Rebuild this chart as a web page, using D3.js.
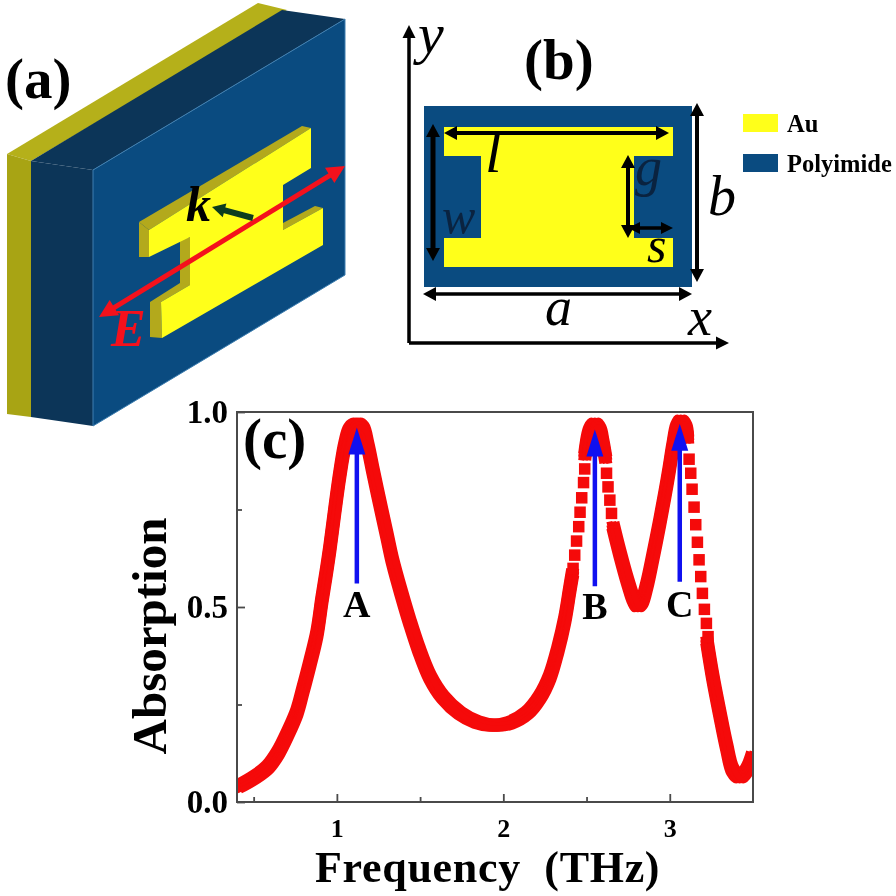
<!DOCTYPE html>
<html>
<head>
<meta charset="utf-8">
<title>Absorber</title>
<script src="https://d3js.org/d3.v7.min.js"></script>
<style>
    html, body { margin: 0; background: #fff; }
    svg { filter: blur(0.5px); }
    text { font-family: "Liberation Serif", serif; }
    .b { font-weight: bold; }
    .i { font-style: italic; }
</style>
</head>
<body>
<script>
// absorption curve (solid stretches)
const freqLow = [0.40,0.508,0.586,0.646,0.706,0.760,0.796,0.838,0.880,0.910,0.934,0.958,0.988,1.018,1.048,1.078,1.120,1.156,1.186,1.216,1.258,1.300,1.336,1.390,1.438,1.492,1.559,1.637,1.739,1.841,1.937,2.039,2.141,2.219,2.279,2.327,2.369,2.399,2.417];
const absLow = [0.038,0.064,0.090,0.126,0.177,0.231,0.287,0.356,0.431,0.518,0.582,0.651,0.749,0.841,0.915,0.956,0.969,0.959,0.913,0.851,0.767,0.685,0.615,0.531,0.462,0.392,0.321,0.269,0.228,0.205,0.197,0.203,0.228,0.269,0.321,0.390,0.467,0.544,0.590];
const freqPeakB = [2.489,2.520,2.550,2.580,2.598,2.616];
const absPeakB = [0.885,0.954,0.969,0.954,0.921,0.877];
const freqMid = [2.658,2.700,2.748,2.784,2.808,2.832,2.862,2.898,2.940,2.970,2.994,3.018,3.042,3.066,3.096,3.108];
const absMid = [0.710,0.638,0.564,0.518,0.503,0.513,0.556,0.628,0.718,0.787,0.846,0.910,0.961,0.977,0.961,0.928];
const freqHigh = [3.222,3.258,3.300,3.342,3.378,3.420,3.462,3.498];
const absHigh = [0.415,0.321,0.228,0.141,0.082,0.064,0.082,0.121];

// separate square markers where the samples spread apart
const freqMarks = [2.489,2.482,2.471,2.461,2.453,2.44,2.429,2.419,2.62,2.629,2.64,2.65,3.116,3.126,3.134,3.146,3.156,3.166,3.176,3.186,3.196,3.208,3.22,3.23];
const absMarks = [0.854,0.819,0.78,0.743,0.706,0.669,0.633,0.599,0.843,0.808,0.774,0.74,0.879,0.843,0.802,0.756,0.711,0.666,0.621,0.578,0.535,0.494,0.458,0.424];

// blue peak arrows
const peakNames = ['A','B','C'];
const peakFreq = [1.12,2.55,3.06];
const peakTail = [0.56,0.553,0.565];
const peakTip = [0.96,0.955,0.97];

const xMajor = [1,2,3];
const xMinor = [0.5,1.5,2.5];
const yMajor = [0,0.5,1];
const yMinor = [0.25,0.75];

const W = 896, H = 896;
const svg = d3.select('body').append('svg').attr('width', W).attr('height', H).style('display','block');
const defs = svg.append('defs');

function poly(pts, fill, stroke){
    return svg.append('polygon')
        .attr('points', pts.map(p=>p.join(',')).join(' '))
        .attr('fill', fill)
        .attr('stroke', stroke || 'none');
}

// straight arrow with filled head, both ends if double
function arrow(g, x1, y1, x2, y2, color, sw, headL, headW, both){
    const a = Math.atan2(y2-y1, x2-x1);
    const ux = Math.cos(a), uy = Math.sin(a);
    const head = (x, y, dx, dy) => {
        const bx = x - dx*headL, by = y - dy*headL;
        g.append('polygon')
            .attr('points', [[x,y],[bx-dy*headW/2,by+dx*headW/2],[bx+dy*headW/2,by-dx*headW/2]].map(p=>p.join(',')).join(' '))
            .attr('fill', color);
    };
    g.append('line')
        .attr('x1', both ? x1+ux*headL*0.8 : x1).attr('y1', both ? y1+uy*headL*0.8 : y1)
        .attr('x2', x2-ux*headL*0.8).attr('y2', y2-uy*headL*0.8)
        .attr('stroke', color).attr('stroke-width', sw);
    head(x2, y2, ux, uy);
    if(both) head(x1, y1, -ux, -uy);
}

function label(x, y, s, size, cls, color){
    return svg.append('text').attr('x', x).attr('y', y).attr('class', cls || '')
        .attr('font-size', size).attr('fill', color || '#000').text(s);
}

// ---------- (a) 3d view ----------
const gold = '#a8a414', navyDark = '#0c3558', navy = '#0a4b80', yellow = '#ffff1a', olive = '#b3a91c';
poly([[7,154],[258,3],[287,10],[31,161]], '#b5b01a');
poly([[7,154],[31,161],[31,417],[7,414]], gold);
poly([[31,161],[282,10],[345,19],[93,170]], navyDark);
poly([[31,161],[93,170],[93,426],[31,417]], navyDark);
poly([[93,170],[345,19],[345,275],[93,426]], navy, '#3f7fb0');

poly([[139,222],[302,126],[311,128],[149,230]], olive);
poly([[139,222],[149,230],[149,257],[139,257]], olive);
poly([[180,240],[190,237],[190,285],[180,285]], olive);
poly([[150,302],[180,283],[190,285],[161,302]], olive);
poly([[150,302],[161,302],[162,338],[150,337]], olive);
poly([[283,223],[315,206],[323,208],[283,230]], olive);
poly([[149,230],[311,128],[311,168],[283,185],[283,230],[323,208],[323,245],[162,338],[161,302],[190,285],[190,237],[149,257]], yellow);

const ga = svg.append('g');
arrow(ga, 99, 317, 345, 166, '#f4111c', 5, 18, 18, true);
arrow(ga, 253, 218, 212, 207, '#0c3d1e', 6, 13, 14, false);
label(186, 221, 'k', 50, 'b i');
label(111, 346, 'E', 52, 'b i', '#f4111c');
label(5, 98, '(a)', 57, 'b');

// ---------- (b) unit cell ----------
svg.append('rect').attr('x',424).attr('y',106).attr('width',268).attr('height',181).attr('fill',navy);
poly([[444,127],[673,127],[673,156],[634,156],[634,238],[673,238],[673,267],[444,267],[444,238],[481,238],[481,156],[444,156]], yellow);

const gb = svg.append('g');
arrow(gb, 409, 343, 409, 25, '#000', 3.5, 13, 13, false);
arrow(gb, 409, 343, 729, 343, '#000', 3.5, 13, 13, false);
arrow(gb, 423, 294, 692, 294, '#000', 3.5, 13, 14, true);
arrow(gb, 697, 103, 697, 282, '#000', 4, 13, 14, true);
arrow(gb, 444, 133, 669, 133, '#000', 4, 13, 14, true);
arrow(gb, 433, 124, 433, 261, '#000', 5, 13, 14, true);
arrow(gb, 628, 155, 628, 238, '#000', 4, 13, 14, true);
arrow(gb, 628, 228, 673, 228, '#000', 3.5, 12, 12, true);

label(418, 53, 'y', 58, 'i');
label(524, 79, '(b)', 57, 'b');
label(485, 172, 'l', 60, 'i');
label(442, 233, 'w', 50, 'i').attr('fill','#0a2340');
label(635, 185, 'g', 54, 'i').attr('fill','#0a2340');
label(647, 262, 's', 50, 'i');
label(708, 215, 'b', 56, 'i');
label(545, 325, 'a', 54, 'i');
label(688, 335, 'x', 54, 'i');

svg.append('rect').attr('x',743).attr('y',114).attr('width',35).attr('height',18).attr('fill',yellow);
svg.append('rect').attr('x',743).attr('y',154).attr('width',35).attr('height',18).attr('fill',navy);
label(787, 132, 'Au', 24.5, 'b');
label(787, 172, 'Polyimide', 24.5, 'b');

// ---------- (c) spectrum ----------
const plot = {l:237, r:753, t:412, b:802};
const x = d3.scaleLinear().domain([0.4,3.5]).range([plot.l, plot.r]);
const y = d3.scaleLinear().domain([0,1]).range([plot.b, plot.t]);

defs.append('clipPath').attr('id','plot-clip').append('rect')
    .attr('x', plot.l).attr('y', plot.t).attr('width', plot.r-plot.l).attr('height', plot.b-plot.t);

const chart = svg.append('g').attr('clip-path','url(#plot-clip)');
const line = d3.line().x(d=>x(d[0])).y(d=>y(d[1])).curve(d3.curveCatmullRom);
// the square markers overlap into a band, so stroke it with a square-ish brush
const brush = [-3.5,0,3.5];
[[freqLow,absLow],[freqPeakB,absPeakB],[freqMid,absMid],[freqHigh,absHigh]].forEach(([fs,vs])=>{
    const d = line(d3.zip(fs,vs));
    brush.forEach(dx=>brush.forEach(dy=>{
        chart.append('path').attr('d', d)
            .attr('transform',`translate(${dx},${dy})`)
            .attr('fill','none').attr('stroke','#f50a0a').attr('stroke-width',6)
            .attr('stroke-linejoin','round');
    }));
});
const sq = 11.5;
chart.selectAll('rect.mark').data(d3.zip(freqMarks,absMarks)).enter().append('rect')
    .attr('class','mark')
    .attr('x', d=>x(d[0])-sq/2).attr('y', d=>y(d[1])-sq/2)
    .attr('width', sq).attr('height', sq).attr('fill','#f50a0a');

// frame and ticks
svg.append('rect').attr('x',plot.l).attr('y',plot.t).attr('width',plot.r-plot.l).attr('height',plot.b-plot.t)
    .attr('fill','none').attr('stroke','#4a4a4a').attr('stroke-width',2);

const xAxis = svg.append('g').attr('transform',`translate(0,${plot.b})`)
    .call(d3.axisBottom(x).tickValues(xMajor).tickSize(-8).tickFormat(d3.format('d')));
const xAxisMinor = svg.append('g').attr('transform',`translate(0,${plot.b})`)
    .call(d3.axisBottom(x).tickValues(xMinor).tickSize(-5).tickFormat(''));
const yAxis = svg.append('g').attr('transform',`translate(${plot.l},0)`)
    .call(d3.axisLeft(y).tickValues(yMajor).tickSize(-8).tickFormat(d3.format('.1f')));
const yAxisMinor = svg.append('g').attr('transform',`translate(${plot.l},0)`)
    .call(d3.axisLeft(y).tickValues(yMinor).tickSize(-5).tickFormat(''));
[xAxis,xAxisMinor,yAxis,yAxisMinor].forEach(a=>{
    a.select('.domain').remove();
    a.selectAll('line').attr('stroke','#4a4a4a').attr('stroke-width',1.8);
    a.selectAll('text').attr('fill','#000').style('font-family','"Liberation Serif", serif').style('font-weight','bold');
});
xAxis.selectAll('text').attr('font-size',26).attr('y',17).attr('dy','0.71em');
yAxis.selectAll('text').attr('font-size',33).attr('x',-9).attr('dy','0.32em');

// peak arrows
const gc = svg.append('g');
peakNames.forEach((n,i)=>{
    arrow(gc, x(peakFreq[i]), y(peakTail[i]), x(peakFreq[i]), y(peakTip[i]), '#1010f0', 4.5, 27, 17, false);
    label(x(peakFreq[i]), i==1 ? 619 : 617, n, 38, 'b').attr('text-anchor','middle');
});

label(243, 458, '(c)', 57, 'b');
label(315, 882, 'Frequency\u00a0\u00a0(THz)', 44, 'b').attr('letter-spacing', 0.7);
label(0, 0, 'Absorption', 49, 'b').attr('text-anchor','middle')
    .attr('transform','translate(166,636) rotate(-90)');
</script>
</body>
</html>
